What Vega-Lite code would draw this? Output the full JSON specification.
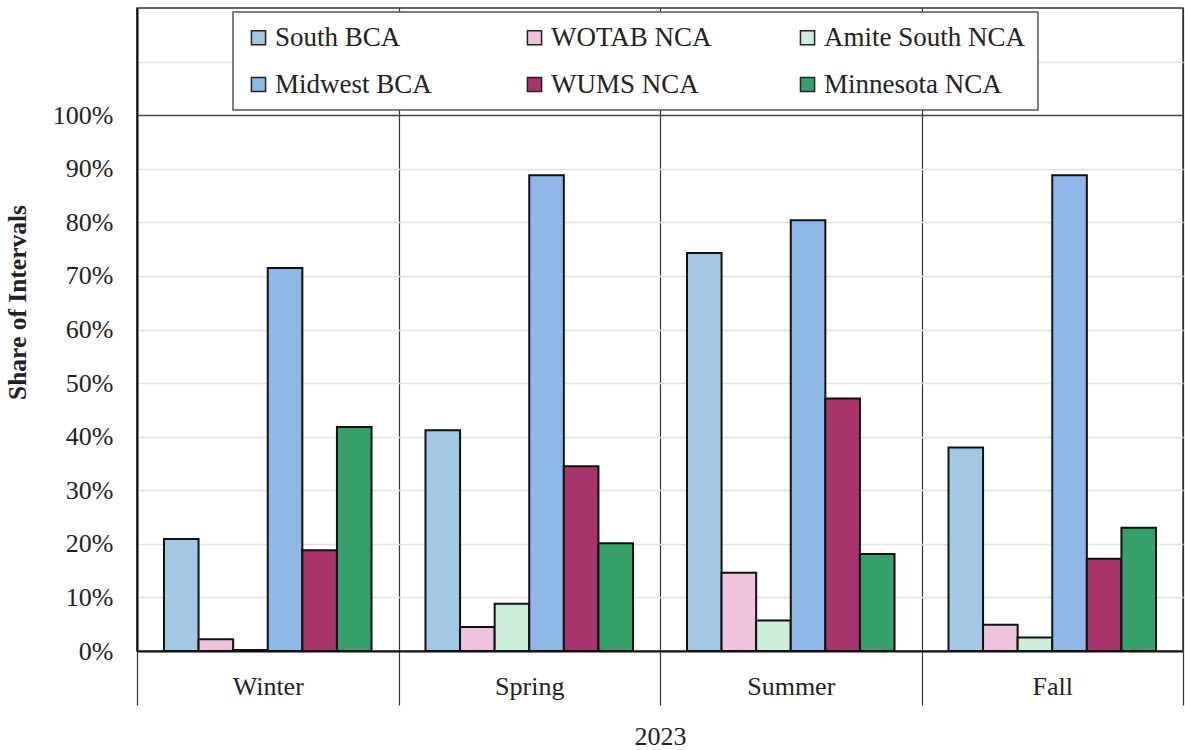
{
  "$schema": "https://vega.github.io/schema/vega-lite/v6.json",
  "width": 1046,
  "height": 643,
  "autosize": "none",
  "padding": {"left": 137, "top": 8, "right": 2, "bottom": 99},
  "background": "white",
  "config": {
    "font": "Liberation Serif",
    "view": {"stroke": "#333", "strokeWidth": 1.5},
    "axis": {"labelFont": "Liberation Serif", "titleFont": "Liberation Serif"},
    "legend": {"strokeWidth": 1.5, "labelFont": "Liberation Serif"}
  },
  "data": {
    "values": [
      {"season": "Winter", "series": "South BCA", "value": 0.209},
      {"season": "Winter", "series": "WOTAB NCA", "value": 0.022},
      {"season": "Winter", "series": "Amite South NCA", "value": 0.002},
      {"season": "Winter", "series": "Midwest  BCA", "value": 0.715},
      {"season": "Winter", "series": "WUMS NCA", "value": 0.188},
      {"season": "Winter", "series": "Minnesota NCA", "value": 0.418},
      {"season": "Spring", "series": "South BCA", "value": 0.412},
      {"season": "Spring", "series": "WOTAB NCA", "value": 0.045},
      {"season": "Spring", "series": "Amite South NCA", "value": 0.088},
      {"season": "Spring", "series": "Midwest  BCA", "value": 0.888},
      {"season": "Spring", "series": "WUMS NCA", "value": 0.345},
      {"season": "Spring", "series": "Minnesota NCA", "value": 0.201},
      {"season": "Summer", "series": "South BCA", "value": 0.743},
      {"season": "Summer", "series": "WOTAB NCA", "value": 0.146},
      {"season": "Summer", "series": "Amite South NCA", "value": 0.057},
      {"season": "Summer", "series": "Midwest  BCA", "value": 0.804},
      {"season": "Summer", "series": "WUMS NCA", "value": 0.471},
      {"season": "Summer", "series": "Minnesota NCA", "value": 0.181},
      {"season": "Fall", "series": "South BCA", "value": 0.380},
      {"season": "Fall", "series": "WOTAB NCA", "value": 0.049},
      {"season": "Fall", "series": "Amite South NCA", "value": 0.025},
      {"season": "Fall", "series": "Midwest  BCA", "value": 0.888},
      {"season": "Fall", "series": "WUMS NCA", "value": 0.172},
      {"season": "Fall", "series": "Minnesota NCA", "value": 0.230}
    ]
  },
  "mark": {"type": "bar", "stroke": "#111", "strokeWidth": 2},
  "encoding": {
    "x": {
      "field": "season",
      "type": "nominal",
      "sort": ["Winter", "Spring", "Summer", "Fall"],
      "scale": {"paddingInner": 0, "paddingOuter": 0},
      "axis": {
        "title": "2023",
        "titleFont": "Liberation Serif",
        "titleFontSize": 26,
        "titleFontWeight": "normal",
        "titleColor": "#222",
        "titlePadding": 18,
        "labelAngle": 0,
        "labelFont": "Liberation Serif",
        "labelFontSize": 26,
        "labelColor": "#222",
        "labelPadding": -32,
        "tickBand": "extent",
        "ticks": true,
        "tickSize": 54,
        "tickColor": "#333",
        "tickWidth": 1.2,
        "grid": true,
        "gridColor": "#333",
        "gridWidth": 1.2,
        "domainColor": "#111",
        "domainWidth": 2
      }
    },
    "xOffset": {
      "field": "series",
      "type": "nominal",
      "sort": ["South BCA", "WOTAB NCA", "Amite South NCA", "Midwest  BCA", "WUMS NCA", "Minnesota NCA"],
      "scale": {"paddingInner": 0, "paddingOuter": 0.78}
    },
    "y": {
      "field": "value",
      "type": "quantitative",
      "scale": {"domain": [0, 1.2], "nice": false},
      "axis": {
        "title": "Share of Intervals",
        "titleFont": "Liberation Serif",
        "titleFontSize": 25.5,
        "titleFontWeight": "bold",
        "titleColor": "#222",
        "titlePadding": 22,
        "titleY": 294,
        "values": [0, 0.1, 0.2, 0.3, 0.4, 0.5, 0.6, 0.7, 0.8, 0.9, 1.0, 1.1],
        "labelExpr": "datum.value > 1.05 ? '' : format(datum.value, '.0%')",
        "labelFont": "Liberation Serif",
        "labelFontSize": 26,
        "labelColor": "#222",
        "labelPadding": 24,
        "ticks": false,
        "domainColor": "#111",
        "domainWidth": 2,
        "grid": true,
        "gridColor": {"condition": {"test": "datum.value == 1", "value": "#444"}, "value": "#e2e2e2"},
        "gridWidth": 1.3
      }
    },
    "color": {
      "field": "series",
      "type": "nominal",
      "sort": ["South BCA", "WOTAB NCA", "Amite South NCA", "Midwest  BCA", "WUMS NCA", "Minnesota NCA"],
      "scale": {
        "domain": ["South BCA", "WOTAB NCA", "Amite South NCA", "Midwest  BCA", "WUMS NCA", "Minnesota NCA"],
        "range": ["#a3c8e2", "#efc3dd", "#cdeedb", "#8fb7e8", "#a8346c", "#36a06b"]
      },
      "legend": {
        "title": null,
        "orient": "none",
        "legendX": 96,
        "legendY": 4,
        "direction": "horizontal",
        "columns": 3,
        "gridAlign": "each",
        "columnPadding": 82,
        "rowPadding": 19,
        "padding": 12,
        "fillColor": "white",
        "strokeColor": "#555",
        "symbolType": "square",
        "symbolSize": 200,
        "symbolStrokeColor": "#222",
        "symbolStrokeWidth": 1.5,
        "symbolOpacity": 1,
        "labelFont": "Liberation Serif",
        "labelFontSize": 27,
        "labelColor": "#222",
        "labelOffset": 3,
        "labelLimit": 400
      }
    }
  }
}
